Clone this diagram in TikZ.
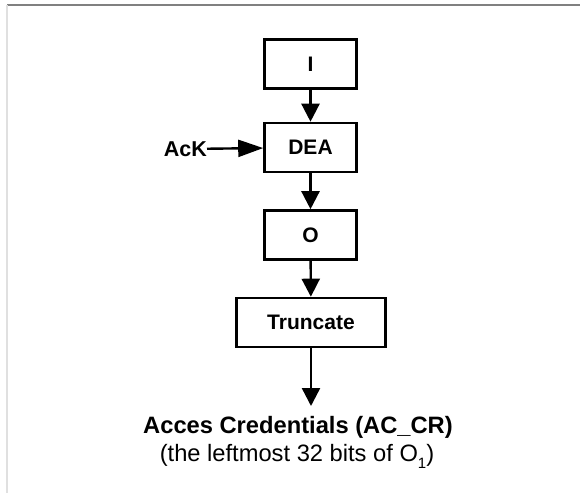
\documentclass[tikz,border=0pt]{standalone}
\usepackage{fontspec}
\setmainfont{Liberation Sans}
\usetikzlibrary{arrows.meta}
\begin{document}
\begin{tikzpicture}[x=1pt,y=-1pt,
  blk/.style={draw=black, line width=2.6pt, minimum width=92pt, minimum height=49pt,
    inner sep=0pt, font=\fontsize{21}{25}\selectfont\bfseries},
  wideblk/.style={blk, minimum width=149pt},
  flow/.style={line width=2.4pt, -{Triangle[length=18pt,width=18pt]}},
  feed/.style={line width=2.4pt, -{Triangle[length=25pt,width=17pt]}},
  lbl/.style={inner sep=0pt, font=\fontsize{21.5}{25}\selectfont\bfseries},
]
\useasboundingbox (0,0) rectangle (580,493);
\fill[white] (0,0) rectangle (580,493);
% page frame
\draw[black!50, line width=1.4pt] (7,5) -- (580,5);
\draw[black!12, line width=1.4pt] (7,5) -- (7,493);

% processing chain
\node[blk] (i) at (310.5,64) {I};
\node[blk] (dea) at (310.5,147.5) {DEA};
\node[blk] (o) at (310.5,235) {O};
\node[wideblk] (trunc) at (311,322.5) {Truncate};
\node[lbl, anchor=east] (ack) at (207,149) {AcK};
\coordinate (out) at (311,406);

\draw[flow] (i) -- (dea);
\draw[flow] (dea) -- (o);
\draw[flow] (o) -- (trunc);
\draw[flow] (trunc) -- (out);
\draw[feed] (ack) -- (dea);

% result
\node[anchor=base, inner sep=0pt, font=\fontsize{23.7}{28}\selectfont\bfseries] (res) at (298,433)
  {Acces Credentials (AC\_CR)};
\node[anchor=base, inner sep=0pt, font=\fontsize{23.7}{28}\selectfont] (note) at (297,461)
  {(the leftmost 32 bits of O\raisebox{-7pt}{\fontsize{15}{15}\selectfont 1})};
\end{tikzpicture}
\end{document}
